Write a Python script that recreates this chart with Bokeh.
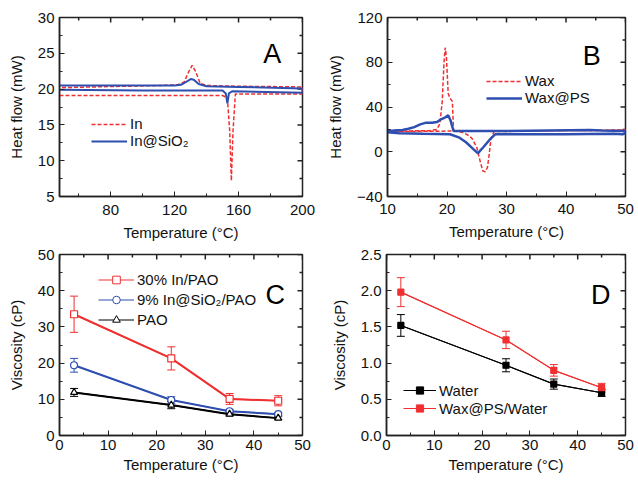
import math
from bokeh.plotting import figure
from bokeh.models import (FixedTicker, Range1d, Legend, LegendItem, PrintfTickFormatter,
                          Label, Whisker, TeeHead, ColumnDataSource)
from bokeh.layouts import column, row
from bokeh.embed import file_html
from bokeh.resources import INLINE

FONT = "Liberation Sans"
AXFONT = "Arial"
RED = "#f03030"
BLUE = "#2f4fb0"

# ---------------- Panel A data (DSC, In) ----------------
a_in_x = [48, 100, 150, 153, 154.5, 155.5, 156.5, 158, 200, 200, 160, 140, 136, 133, 131, 129, 126, 122, 110, 48]
a_in_y = [19.1, 19.1, 19.1, 18.8, 14.0, 7.2, 14.0, 19.3, 19.3, 20.3, 20.4, 20.5, 20.8, 22.5, 23.3, 22.5, 21.0, 20.6, 20.5, 20.2]
a_sio_x = [48, 100, 150, 152, 153, 154, 156, 200, 200, 160, 140, 135, 132, 130, 128, 124, 120, 48]
a_sio_y = [19.9, 19.8, 19.8, 19.4, 18.0, 19.4, 19.7, 19.5, 20.1, 20.3, 20.4, 20.7, 21.3, 21.4, 21.1, 20.6, 20.5, 20.5]

# ---------------- Panel B data (DSC, Wax) ----------------
b_wax_x = [10, 17, 21, 22.5, 23.5, 24.2, 25.0, 25.5, 26.0, 26.4, 26.8, 27.1, 27.4, 27.9, 35, 50,
           50, 49, 30, 21.5, 21.1, 20.9, 20.5, 20.2, 19.9, 19.7, 19.5, 19.2, 18.8, 18.3, 17, 10]
b_wax_y = [18.0, 18.3, 18.5, 17.5, 15.0, 12.0, 4.0, -7.0, -17.0, -18.0, -14.0, -2.0, 12.0, 18.0, 18.6, 19.5,
           20.0, 19.0, 18.8, 18.6, 19.0, 45.0, 48.0, 52.0, 85.0, 93.0, 80.0, 45.0, 25.0, 20.0, 18.8, 18.5]
b_ps_x = [10, 12, 16, 20.5, 22.1, 23.2, 24.2, 25.2, 25.5, 26.1, 27.2, 28.1, 40, 48, 49.5, 50,
          50, 46, 44, 30, 21.1, 20.8, 20.6, 20.2, 19.8, 19.0, 18.3, 17.5, 16.5, 15.5, 14.5, 13.5, 12.5, 11, 10]
b_ps_y = [17.5, 16.5, 16.0, 15.6, 12.6, 8.5, 3.5, -1.5, 0.5, 4.0, 11.0, 15.6, 15.6, 16.0, 15.6, 16.5,
          18.6, 19.0, 19.5, 18.6, 18.6, 24.0, 28.0, 32.7, 31.0, 29.0, 26.5, 26.0, 26.0, 24.5, 22.0, 20.5, 19.5, 19.0, 18.8]

# ---------------- Panel C data (viscosity, PAO) ----------------
c_temp = [3, 23, 35, 45]
c_in = [33.5, 21.3, 10.1, 9.6]
c_in_err = [5.0, 3.2, 1.5, 1.4]
c_sio = [19.4, 9.8, 6.7, 5.9]
c_sio_err = [1.9, 0.9, 0.5, 0.4]
c_pao = [11.9, 8.4, 5.9, 4.8]
c_pao_err = [1.1, 1.0, 0.5, 0.4]

# ---------------- Panel D data (viscosity, water) ----------------
d_temp = [3, 25, 35, 45]
d_water = [1.52, 0.97, 0.71, 0.59]
d_water_err = [0.15, 0.09, 0.07, 0.05]
d_wax = [1.98, 1.32, 0.90, 0.66]
d_wax_err = [0.20, 0.12, 0.08, 0.06]


def mirror_ticks(p, xr, yr, ticks, minor, axis):
    # inward ticks on the top / right frame edges (half of each dash is clipped by the frame)
    for tk, size in ((ticks, 10), (minor, 6)):
        if axis == "x":
            p.scatter(tk, [yr[1]] * len(tk), marker="dash", size=size, angle=math.pi / 2,
                      line_color="#222222", line_width=1.5)
        else:
            p.scatter([xr[1]] * len(tk), tk, marker="dash", size=size,
                      line_color="#222222", line_width=1.5)


def make_fig(w, h, bl, br, bt, bb, xr, yr, xt, xmt, yt, ymt, xlabel, ylabel, xstand, xlstand):
    p = figure(width=w, height=h, x_range=Range1d(*xr), y_range=Range1d(*yr),
               output_backend="svg", toolbar_location=None,
               min_border_left=bl, min_border_right=br, min_border_top=bt, min_border_bottom=bb)
    p.grid.visible = False
    p.outline_line_color = "#222222"
    p.outline_line_width = 1.5
    p.xaxis.ticker = FixedTicker(ticks=xt, minor_ticks=xmt)
    p.yaxis.ticker = FixedTicker(ticks=yt, minor_ticks=ymt)
    p.xaxis.axis_label = xlabel
    p.yaxis.axis_label = ylabel
    for axs in (p.xaxis, p.yaxis):
        axs.axis_line_width = 1.5
        axs.axis_line_color = "#222222"
        axs.major_tick_in = 5
        axs.major_tick_out = 0
        axs.minor_tick_in = 3
        axs.minor_tick_out = 0
        axs.major_tick_line_color = "#222222"
        axs.minor_tick_line_color = "#222222"
        axs.major_label_text_font = FONT
        axs.major_label_text_font_size = "15px"
        axs.major_label_text_color = "#111111"
        axs.axis_label_text_font = AXFONT
        axs.axis_label_text_font_size = "15px"
        axs.axis_label_text_font_style = "normal"
        axs.axis_label_text_color = "#111111"
    p.xaxis.major_label_standoff = xstand
    p.xaxis.axis_label_standoff = xlstand
    p.yaxis.major_label_standoff = 5
    p.yaxis.axis_label_standoff = 10
    mirror_ticks(p, xr, yr, xt, xmt, "x")
    mirror_ticks(p, xr, yr, yt, ymt, "y")
    return p


def panel_letter(p, x, y, txt):
    p.add_layout(Label(x=x, y=y, text=txt, text_font=FONT, text_font_size="27px",
                       text_color="black", text_baseline="middle"))


def style_legend(lg, gw, lh, sp):
    lg.border_line_color = None
    lg.background_fill_alpha = 0
    lg.label_text_font = FONT
    lg.label_text_font_size = "15px"
    lg.label_text_color = "#111111"
    lg.glyph_width = gw
    lg.glyph_height = lh
    lg.label_height = lh
    lg.spacing = sp
    lg.padding = 0
    lg.margin = 0
    lg.label_standoff = 3


def whiskers(p, x, y, err, color):
    src = ColumnDataSource(dict(x=x, upper=[a + b for a, b in zip(y, err)],
                                lower=[a - b for a, b in zip(y, err)]))
    w = Whisker(source=src, base="x", upper="upper", lower="lower",
                line_color=color, line_width=1,
                upper_head=TeeHead(size=8, line_color=color, line_width=1),
                lower_head=TeeHead(size=8, line_color=color, line_width=1))
    p.add_layout(w)


def series(p, x, y, color, marker, fill, lw, size):
    # thin line + small marker drawn first (hidden below the real series): used as legend sample
    ln = p.line(x, y, line_color=color, line_width=1.2)
    sc = p.scatter(x, y, marker=marker, size=4.5, line_color=color, fill_color=fill, line_width=1)
    p.line(x, y, line_color=color, line_width=lw)
    p.scatter(x, y, marker=marker, size=size, line_color=color, fill_color=fill, line_width=1.2)
    return [ln, sc]


# ---------------- Panel A ----------------
pA = make_fig(324, 244, 59, 22, 17, 48, (48, 200), (5, 30),
              [80, 120, 160, 200], [60, 100, 140, 180],
              [5, 10, 15, 20, 25, 30], [7.5, 12.5, 17.5, 22.5, 27.5],
              "Temperature (°C)", "Heat flow (mW)", 8, 6)
rA1 = pA.line(a_in_x, a_in_y, line_color=RED, line_width=1.5, line_dash="4 2")
rA2 = pA.line(a_sio_x, a_sio_y, line_color=BLUE, line_width=2)
lgA = Legend(items=[LegendItem(label="In", renderers=[rA1]),
                    LegendItem(label="In@SiO₂", renderers=[rA2])], location=(32, 47))
style_legend(lgA, 36, 16, 0)
pA.add_layout(lgA)
panel_letter(pA, 175.5, 24.9, "A")

# ---------------- Panel B ----------------
pB = make_fig(314, 244, 62, 13, 17, 48, (10, 50), (-40, 120),
              [10, 20, 30, 40, 50], [15, 25, 35, 45],
              [-40, 0, 40, 80, 120], [-20, 20, 60, 100],
              "Temperature (°C)", "Heat flow (mW)", 7, 6)
rB1 = pB.line(b_wax_x, b_wax_y, line_color=RED, line_width=1.5, line_dash="4 2")
rB2 = pB.line(b_ps_x, b_ps_y, line_color=BLUE, line_width=2.5)
lgB = Legend(items=[LegendItem(label="Wax", renderers=[rB1]),
                    LegendItem(label="Wax@PS", renderers=[rB2])], location=(99, 90))
style_legend(lgB, 36, 16, 0)
pB.add_layout(lgB)
panel_letter(pB, 42.8, 85.4, "B")

# ---------------- Panel C ----------------
pC = make_fig(324, 237, 59, 22, 10, 46, (0, 50), (0, 50),
              [0, 10, 20, 30, 40, 50], [5, 15, 25, 35, 45],
              [0, 10, 20, 30, 40, 50], [5, 15, 25, 35, 45],
              "Temperature (°C)", "Viscosity (cP)", 4, 3)
whiskers(pC, c_temp, c_in, c_in_err, RED)
whiskers(pC, c_temp, c_sio, c_sio_err, BLUE)
whiskers(pC, c_temp, c_pao, c_pao_err, "black")
gC1 = series(pC, c_temp, c_in, RED, "square", "white", 2, 7)
gC2 = series(pC, c_temp, c_sio, BLUE, "circle", "white", 2, 7)
gC3 = series(pC, c_temp, c_pao, "black", "triangle", "white", 2, 7)
lgC = Legend(items=[LegendItem(label="30% In/PAO", renderers=gC1),
                    LegendItem(label="9% In@SiO₂/PAO", renderers=gC2),
                    LegendItem(label="PAO", renderers=gC3)], location=(39, 106))
style_legend(lgC, 36, 19, 1)
pC.add_layout(lgC)
panel_letter(pC, 42.4, 38.8, "C")

# ---------------- Panel D ----------------
pD = make_fig(314, 237, 62, 13, 10, 46, (0, 50), (0, 2.5),
              [0, 10, 20, 30, 40, 50], [5, 15, 25, 35, 45],
              [0, 0.5, 1.0, 1.5, 2.0, 2.5], [0.25, 0.75, 1.25, 1.75, 2.25],
              "Temperature (°C)", "Viscosity (cP)", 4, 3)
pD.yaxis[0].formatter = PrintfTickFormatter(format="%.1f")
whiskers(pD, d_temp, d_water, d_water_err, "black")
whiskers(pD, d_temp, d_wax, d_wax_err, RED)
gD1 = series(pD, d_temp, d_water, "black", "square", "black", 1, 6)
gD2 = series(pD, d_temp, d_wax, RED, "square", RED, 1, 6)
lgD = Legend(items=[LegendItem(label="Water", renderers=gD1),
                    LegendItem(label="Wax@PS/Water", renderers=gD2)], location=(17, 18))
style_legend(lgD, 33, 18, 0)
pD.add_layout(lgD)
panel_letter(pD, 42.8, 1.94, "D")

layout = column(row(pA, pB), row(pC, pD))
open("out.html", "w").write(file_html(layout, INLINE))
